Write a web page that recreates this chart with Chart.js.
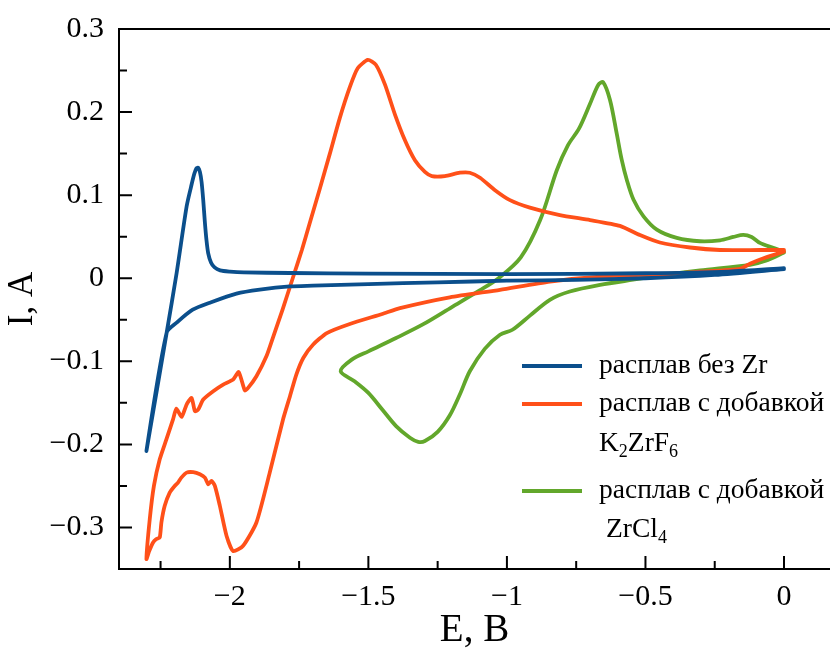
<!DOCTYPE html>
<html>
<head>
<meta charset="utf-8">
<script src="https://cdn.jsdelivr.net/npm/chart.js@4.4.1/dist/chart.umd.min.js"></script>
<style>
  html, body { margin: 0; padding: 0; background: #fff; }
  #wrap { width: 830px; height: 654px; }
</style>
</head>
<body>
<div id="wrap"><canvas id="cv"></canvas></div>
<script>
'use strict';

// расплав без Zr
const blueE = [0, -0.25, -0.5, -0.75, -1.0, -1.25, -1.5, -1.7, -1.783, -1.892, -1.976, -2.072, -2.134, -2.192, -2.228, -2.301,
  -2.228, -2.192, -2.156, -2.140, -2.128, -2.120, -2.114, -2.108, -2.102, -2.096, -2.090, -2.084, -2.078, -2.068, -2.055, -2.035,
  -2.0, -1.95, -1.783, -1.5, -1.0, -0.5, -0.2, 0];
const blueI = [0.011, 0.004, 0.0, -0.002, -0.003, -0.005, -0.007, -0.009, -0.0099, -0.0138, -0.0186, -0.0295, -0.0379, -0.0535, -0.0655, -0.208,
  -0.0655, 0.0063, 0.0863, 0.110, 0.126, 0.1325, 0.133, 0.128, 0.116, 0.094, 0.067, 0.045, 0.030, 0.019, 0.013, 0.0095,
  0.008, 0.007, 0.0063, 0.0055, 0.005, 0.006, 0.008, 0.012];

// расплав с добавкой K2ZrF6
const orangeE = [0.0, -0.069, -0.123, -0.159, -0.303, -0.401, -0.664, -0.845, -1.025, -1.206, -1.386, -1.45, -1.567, -1.65, -1.70,
  -1.735, -1.76, -1.783, -1.808, -1.856, -1.904, -1.952, -1.988, -2.012, -2.036, -2.054, -2.066, -2.078, -2.090, -2.108, -2.132,
  -2.156, -2.175, -2.187, -2.199, -2.217, -2.235, -2.247, -2.253, -2.265, -2.277, -2.291, -2.301,
  -2.289, -2.274, -2.253, -2.229, -2.205, -2.193, -2.174, -2.156, -2.138, -2.126, -2.114, -2.096, -2.060, -2.024, -1.988, -1.968,
  -1.946, -1.934, -1.904, -1.868, -1.845, -1.81, -1.773, -1.74, -1.711, -1.675, -1.639, -1.603, -1.567, -1.538, -1.502, -1.473,
  -1.44, -1.404, -1.368, -1.332, -1.296, -1.271, -1.224, -1.170, -1.134, -1.097, -1.043, -0.989, -0.917, -0.809, -0.700, -0.592,
  -0.520, -0.448, -0.339, -0.231, -0.087, 0.0];
const orangeI = [0.032, 0.0246, 0.0174, 0.0114, 0.0078, 0.0054, 0.0018, -0.004, -0.014, -0.023, -0.036, -0.043, -0.055, -0.066, -0.080,
  -0.096, -0.116, -0.142, -0.170, -0.234, -0.294, -0.322, -0.3285, -0.310, -0.274, -0.250, -0.244, -0.248, -0.240, -0.236, -0.2335,
  -0.234, -0.240, -0.246, -0.250, -0.258, -0.274, -0.294, -0.312, -0.314, -0.318, -0.3285, -0.338,
  -0.290, -0.250, -0.218, -0.194, -0.170, -0.157, -0.167, -0.152, -0.144, -0.160, -0.158, -0.146, -0.136, -0.128, -0.122, -0.113,
  -0.135, -0.132, -0.118, -0.094, -0.072, -0.038, 0.0, 0.034, 0.067, 0.108, 0.150, 0.193, 0.230, 0.253, 0.2627, 0.257,
  0.233, 0.197, 0.166, 0.142, 0.128, 0.123, 0.123, 0.127, 0.127, 0.121, 0.106, 0.094, 0.085, 0.076, 0.070, 0.063,
  0.052, 0.043, 0.037, 0.034, 0.034, 0.034];

// расплав с добавкой ZrCl4
const greenE = [0.0, -0.066, -0.123, -0.303, -0.424, -0.545, -0.664, -0.773, -0.845, -0.917, -0.98, -1.025, -1.08, -1.134, -1.17,
  -1.206, -1.25, -1.296, -1.32, -1.35, -1.40, -1.45, -1.50, -1.55, -1.60,
  -1.56, -1.50, -1.40, -1.30, -1.20, -1.10, -1.03, -0.95, -0.88, -0.82, -0.78, -0.74, -0.70, -0.67, -0.653, -0.628, -0.604,
  -0.586, -0.567, -0.543, -0.507, -0.459, -0.387, -0.303, -0.231, -0.183, -0.147, -0.117, -0.087, -0.039, 0.0];
const greenI = [0.031, 0.021, 0.0162, 0.0094, 0.0042, -0.0018, -0.008, -0.016, -0.026, -0.045, -0.062, -0.068, -0.085, -0.112, -0.140,
  -0.165, -0.185, -0.196, -0.197, -0.192, -0.178, -0.158, -0.138, -0.124, -0.112,
  -0.098, -0.088, -0.072, -0.055, -0.035, -0.015, 0.0, 0.025, 0.07, 0.13, 0.16, 0.18, 0.21, 0.233, 0.236, 0.2146, 0.1746,
  0.143, 0.118, 0.0944, 0.0745, 0.0585, 0.0485, 0.0445, 0.0457, 0.0497, 0.0523, 0.0497, 0.0425, 0.0365, 0.032];

const seriesNames = ['расплав без Zr', 'расплав с добавкой', 'расплав с добавкой'];
const seriesColors = ['#0b4f8c', '#ff5019', '#62a72b'];
const xTitle = 'E, B';
const yTitle = 'I, A';

const SERIF = '"Liberation Serif", "Times New Roman", serif';

function pts(xs, ys) {
  return xs.map((x, i) => ({ x: x, y: ys[i] }));
}

function fmt(v) {
  const a = Number(Math.abs(v).toFixed(2));
  if (a === 0) return '0';
  return (v < 0 ? '\u2212' : '') + String(a);
}

// inward ticks (major + minor) and top frame line
const frameTicks = {
  id: 'frameTicks',
  afterDraw(chart) {
    const ctx = chart.ctx;
    const a = chart.chartArea;
    const xs = chart.scales.x, ys = chart.scales.y;
    ctx.save();
    ctx.strokeStyle = '#000';
    ctx.lineWidth = 2;
    ctx.beginPath();
    ctx.moveTo(a.left, a.top);
    ctx.lineTo(a.right, a.top);
    for (let k = -9; k <= 0; k++) {
      const px = xs.getPixelForValue(k * 0.25);
      if (px < a.left) continue;
      const len = (k % 2 === 0) ? 13 : 8;
      ctx.moveTo(px, a.bottom);
      ctx.lineTo(px, a.bottom - len);
    }
    for (let k = -6; k <= 6; k++) {
      const py = ys.getPixelForValue(k * 0.05);
      const len = (k % 2 === 0) ? 13 : 8;
      ctx.moveTo(a.left, py);
      ctx.lineTo(a.left + len, py);
    }
    ctx.stroke();
    ctx.restore();
  }
};

// legend with subscripts
const subLegend = {
  id: 'subLegend',
  afterDraw(chart) {
    const ctx = chart.ctx;
    const rows = [
      { y: 366, color: seriesColors[0], text: seriesNames[0] },
      { y: 404, color: seriesColors[1], text: seriesNames[1] },
      { y: 491, color: seriesColors[2], text: seriesNames[2] }
    ];
    ctx.save();
    ctx.textBaseline = 'middle';
    ctx.textAlign = 'left';
    rows.forEach(r => {
      ctx.strokeStyle = r.color;
      ctx.lineWidth = 4;
      ctx.beginPath();
      ctx.moveTo(522, r.y);
      ctx.lineTo(582, r.y);
      ctx.stroke();
      ctx.fillStyle = '#000';
      ctx.font = '27.5px ' + SERIF;
      ctx.fillText(r.text, 599, r.y);
    });
    function formula(parts, x, y) {
      parts.forEach(p => {
        ctx.font = (p[1] ? '18px ' : '27.5px ') + SERIF;
        ctx.fillText(p[0], x, y + (p[1] ? 8 : 0));
        x += ctx.measureText(p[0]).width;
      });
    }
    formula([['K', false], ['2', true], ['ZrF', false], ['6', true]], 599, 444);
    formula([['ZrCl', false], ['4', true]], 606, 530);
    ctx.restore();
  }
};

new Chart(document.getElementById('cv'), {
  type: 'scatter',
  data: {
    datasets: [
      { label: seriesNames[0], data: pts(blueE, blueI), borderColor: seriesColors[0], tension: 0.25 },
      { label: seriesNames[1], data: pts(orangeE, orangeI), borderColor: seriesColors[1], tension: 0.2 },
      { label: seriesNames[2], data: pts(greenE, greenI), borderColor: seriesColors[2], tension: 0.3 }
    ]
  },
  options: {
    responsive: true,
    maintainAspectRatio: false,
    animation: false,
    devicePixelRatio: 1,
    layout: { padding: { top: 29, right: 0, left: 0, bottom: 0 } },
    elements: {
      line: { borderWidth: 3.8, fill: false, borderJoinStyle: 'round', borderCapStyle: 'round' },
      point: { radius: 0, hoverRadius: 0 }
    },
    datasets: { scatter: { showLine: true } },
    plugins: {
      legend: { display: false },
      tooltip: { enabled: false }
    },
    scales: {
      x: {
        type: 'linear',
        min: -2.4,
        max: 0.166,
        afterFit(scale) { scale.height = 85; },
        border: { display: true, color: '#000', width: 2 },
        grid: { display: false },
        ticks: {
          stepSize: 0.5,
          includeBounds: false,
          autoSkip: false,
          maxRotation: 0,
          padding: 2,
          color: '#000',
          font: { family: SERIF, size: 30 },
          callback: fmt
        },
        title: {
          display: true,
          text: xTitle,
          color: '#000',
          font: { family: SERIF, size: 39 },
          padding: { top: 0, bottom: 0 }
        }
      },
      y: {
        type: 'linear',
        min: -0.35,
        max: 0.3,
        afterFit(scale) { scale.width = 119; },
        border: { display: true, color: '#000', width: 2 },
        grid: { display: false },
        ticks: {
          stepSize: 0.1,
          includeBounds: false,
          autoSkip: false,
          padding: 7,
          color: '#000',
          font: { family: SERIF, size: 30 },
          callback: fmt
        },
        title: {
          display: true,
          text: yTitle,
          color: '#000',
          font: { family: SERIF, size: 35 },
          padding: { top: 2, bottom: 2 }
        }
      }
    }
  },
  plugins: [frameTicks, subLegend]
});
</script>
</body>
</html>
